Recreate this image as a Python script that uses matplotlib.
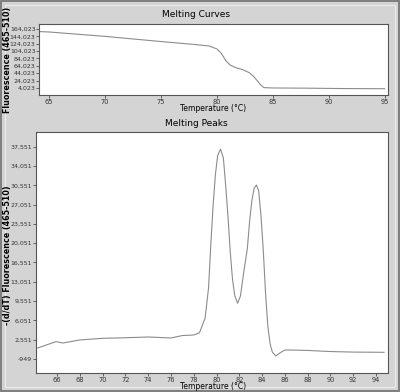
#Melting curve / melting peak plots

import matplotlib.pyplot as plt
from matplotlib.ticker import FuncFormatter
from matplotlib.patches import Rectangle

# melting curve (fluorescence vs temperature)
curve_t = [64.2, 65, 70, 75, 78, 79.3, 80, 80.4, 80.8, 81.2, 81.7, 82.3, 82.9,
           83.3, 83.6, 83.9, 84.2, 85, 88, 91, 95]
curve_f = [157000, 155900, 144000, 130000, 122000, 118000, 110000, 98000, 78000,
           66000, 59000, 54000, 45500, 35000, 24000, 13000, 5000, 4023, 3500,
           2500, 2000]

# melting peaks (-dF/dT vs temperature)
peak_t = [64.3, 65.9, 66.5, 68, 70, 72, 74, 76, 77, 78, 78.5, 79.0, 79.3, 79.5,
          79.7, 79.9, 80.1, 80.35, 80.6, 80.8, 81.0, 81.2, 81.4, 81.6, 81.85,
          82.1, 82.4, 82.7, 82.9, 83.1, 83.3, 83.5, 83.7, 83.9, 84.1, 84.3,
          84.5, 84.7, 84.9, 85.2, 85.6, 86.0, 87, 88, 90, 92, 94.7]
peak_f = [1050, 2190, 1950, 2500, 2800, 2900, 3040, 2860, 3300, 3400, 3800,
          6500, 12000, 20000, 27000, 32500, 36000, 37100, 35500, 30500, 25000,
          18500, 13500, 10500, 9150, 10500, 15000, 19000, 24000, 27800, 30000,
          30600, 29500, 25000, 18800, 11000, 5000, 1800, 300, -400, 200, 680,
          650, 600, 400, 300, 260]

top_ticks_y = [4023, 24023, 44023, 64023, 84023, 104023, 124023, 144023, 164023]
bot_ticks_y = [-949, 2551, 6051, 9551, 13051, 16551, 20051, 23551, 27051,
               30551, 34051, 37551]
top_ticks_x = [65, 70, 75, 80, 85, 90, 95]
bot_ticks_x = list(range(66, 96, 2))

bg = '#d4d4d4'
linec = '#8c8c8c'
edge = '#555555'

fmt = FuncFormatter(lambda v, p: '{:,}'.format(int(round(v))))

fig = plt.figure(figsize=(4, 3.92), dpi=100, facecolor=bg)
fig.patches.append(Rectangle((0.002, 0.002), 0.996, 0.996, transform=fig.transFigure,
                             fill=False, edgecolor='#707070', lw=1.2))
fig.patches.append(Rectangle((0.012, 0.012), 0.976, 0.976, transform=fig.transFigure,
                             fill=False, edgecolor='#ececec', lw=0.8))

ax1 = fig.add_axes([0.0975, 0.7577, 0.8725, 0.1811])
ax2 = fig.add_axes([0.09, 0.0485, 0.88, 0.6148])

ax1.plot(curve_t, curve_f, color=linec, lw=0.8)
ax1.set_xlim(64.1, 95.3)
ax1.set_ylim(-15000, 177600)
ax1.set_xticks(top_ticks_x)
ax1.set_yticks(top_ticks_y)

ax2.plot(peak_t, peak_f, color=linec, lw=0.8)
ax2.set_xlim(64.15, 95.05)
ax2.set_ylim(-3490, 40216)
ax2.set_xticks(bot_ticks_x)
ax2.set_yticks(bot_ticks_y)

for ax in (ax1, ax2):
    ax.set_facecolor('white')
    ax.yaxis.set_major_formatter(fmt)
    ax.tick_params(labelsize=4.8, length=2, width=0.5, pad=1, colors='#333333')
    for s in ax.spines.values():
        s.set_color(edge)
        s.set_linewidth(0.8)
ax1.tick_params(axis='y', labelsize=4.5, pad=0.5)
ax2.tick_params(axis='y', labelsize=4.5, pad=0.8)

fig.text(0.49, 0.962, 'Melting Curves', ha='center', va='center', fontsize=6.5)
fig.text(0.533, 0.722, 'Temperature (°C)', ha='center', va='center', fontsize=5.5)
fig.text(0.018, 0.847, 'Fluorescence (465-510)', rotation=90, ha='center',
         va='center', fontsize=5.8, fontweight='bold')

fig.text(0.49, 0.684, 'Melting Peaks', ha='center', va='center', fontsize=6.5)
fig.text(0.533, 0.013, 'Temperature (°C)', ha='center', va='center', fontsize=5.5)
fig.text(0.018, 0.35, '-(d/dT) Fluorescence (465-510)', rotation=90, ha='center',
         va='center', fontsize=5.8, fontweight='bold')

plt.savefig('out.png', dpi=100, facecolor=bg)
plt.close()
